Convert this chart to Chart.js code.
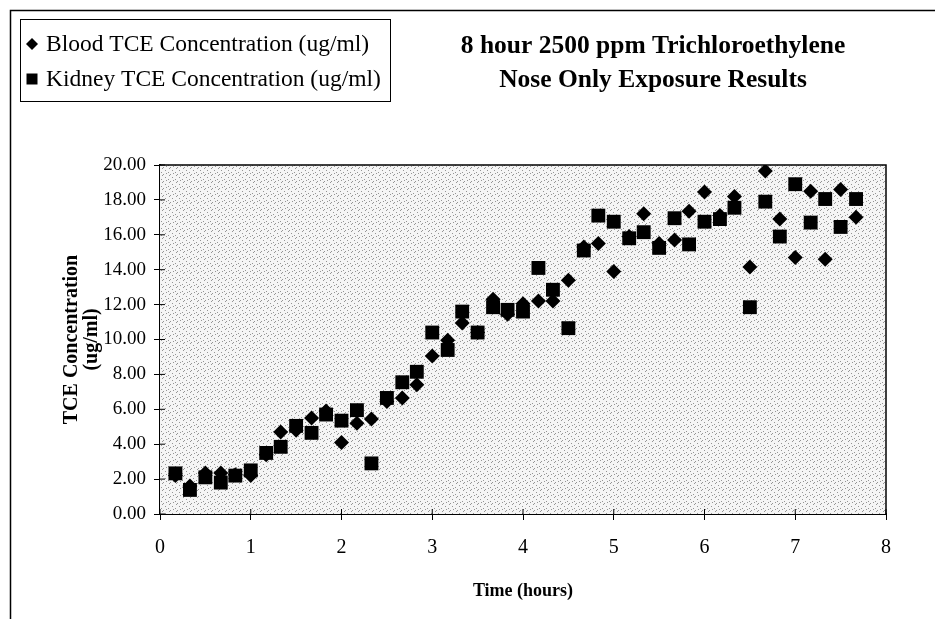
<!DOCTYPE html>
<html>
<head>
<meta charset="utf-8">
<script src="https://cdn.jsdelivr.net/npm/chart.js@4.4.1/dist/chart.umd.min.js"></script>
<style>
  html, body { margin: 0; padding: 0; background: #fff; }
  #wrap { width: 935px; height: 619px; position: relative; }
</style>
</head>
<body>
<div id="wrap"><canvas id="tceChart" width="935" height="619"></canvas></div>
<script>
// sampling times (hours)
const times = [0.17, 0.33, 0.5, 0.67, 0.83, 1.0, 1.17, 1.33, 1.5, 1.67, 1.83, 2.0, 2.17, 2.33, 2.5, 2.67,
    2.83, 3.0, 3.17, 3.33, 3.5, 3.67, 3.83, 4.0, 4.17, 4.33, 4.5, 4.67, 4.83, 5.0, 5.17, 5.33, 5.5, 5.67,
    5.83, 6.0, 6.17, 6.33, 6.5, 6.67, 6.83, 7.0, 7.17, 7.33, 7.5, 7.67];

const bloodTCE = [2.2, 1.6, 2.35, 2.35, 2.25, 2.2, 3.4, 4.7, 4.8, 5.5, 5.9, 4.1, 5.2, 5.45, 6.45, 6.65,
    7.4, 9.05, 9.95, 10.95, 10.4, 12.3, 11.45, 12.05, 12.2, 12.2, 13.4, 15.3, 15.5, 13.9, 15.9, 17.2, 15.5, 15.7,
    17.35, 18.45, 17.1, 18.2, 14.15, 19.65, 16.9, 14.7, 18.5, 14.6, 18.6, 17.0];

const kidneyTCE = [2.33, 1.38, 2.1, 1.8, 2.2, 2.5, 3.5, 3.85, 5.05, 4.65, 5.7, 5.35, 5.95, 2.9, 6.65, 7.55,
    8.15, 10.4, 9.4, 11.6, 10.4, 11.85, 11.7, 11.6, 14.1, 12.85, 10.65, 15.1, 17.1, 16.75, 15.8, 16.15, 15.25, 16.95,
    15.45, 16.75, 16.9, 17.55, 11.85, 17.9, 15.9, 18.9, 16.7, 18.05, 16.45, 18.05];

const seriesLabels = ['Blood TCE Concentration (ug/ml)', 'Kidney TCE Concentration (ug/ml)'];
const titleLines = ['8 hour 2500 ppm Trichloroethylene', 'Nose Only Exposure Results'];
const yTitle = ['TCE Concentration', '(ug/ml)'];
const xTitle = 'Time (hours)';

const SERIF = "'Liberation Serif', 'Times New Roman', serif";

// stippled grey fill for the plot area
function makeStipple(ctx) {
    const tile = document.createElement('canvas');
    tile.width = 7; tile.height = 7;
    const t = tile.getContext('2d');
    t.fillStyle = '#f5f5f5';
    t.fillRect(0, 0, 7, 7);
    t.fillStyle = '#959595';
    [[1, 0], [4, 2], [0, 4], [5, 5], [2, 6]].forEach(([x, y]) => t.fillRect(x, y, 1, 1));
    return ctx.createPattern(tile, 'repeat');
}

const decorPlugin = {
    id: 'decor',
    beforeDatasetsDraw(chart) {
        const { ctx, chartArea: a } = chart;
        ctx.save();
        ctx.fillStyle = makeStipple(ctx);
        ctx.fillRect(a.left, a.top, a.right - a.left, a.bottom - a.top);
        // top and right edges of the plot box
        ctx.strokeStyle = '#000';
        ctx.lineWidth = 1.5;
        ctx.beginPath();
        ctx.moveTo(a.left, a.top);
        ctx.lineTo(a.right, a.top);
        ctx.lineTo(a.right, a.bottom);
        ctx.stroke();
        // ticks crossing into the plot
        ctx.lineWidth = 1;
        const xs = chart.scales.x, ys = chart.scales.y;
        ctx.beginPath();
        ys.ticks.forEach(t => {
            const py = ys.getPixelForValue(t.value);
            ctx.moveTo(a.left, py);
            ctx.lineTo(a.left + 5, py);
        });
        xs.ticks.forEach(t => {
            const px = xs.getPixelForValue(t.value);
            ctx.moveTo(px, a.bottom);
            ctx.lineTo(px, a.bottom - 5);
        });
        ctx.stroke();
        ctx.restore();
    },
    afterDraw(chart) {
        const { ctx } = chart;
        ctx.save();
        // outer frame
        ctx.strokeStyle = '#000';
        ctx.lineWidth = 1.5;
        ctx.beginPath();
        ctx.moveTo(10.5, 619);
        ctx.lineTo(10.5, 10.5);
        ctx.lineTo(935, 10.5);
        ctx.stroke();
        // legend box
        ctx.lineWidth = 1;
        ctx.strokeRect(20.5, 19.5, 370, 82);
        ctx.fillStyle = '#000';
        ctx.font = '23.5px ' + SERIF;
        ctx.textBaseline = 'middle';
        ctx.textAlign = 'left';
        const rows = [44, 79];
        chart.data.datasets.forEach((ds, i) => {
            const cx = 32, cy = rows[i];
            ctx.beginPath();
            if (ds.pointStyle === 'rectRot') {
                ctx.moveTo(cx, cy - 6); ctx.lineTo(cx + 6, cy); ctx.lineTo(cx, cy + 6); ctx.lineTo(cx - 6, cy);
            } else {
                ctx.rect(cx - 5.5, cy - 5.5, 11, 11);
            }
            ctx.closePath();
            ctx.fill();
            ctx.fillText(ds.label, 46, cy + 1);
        });
        // title
        ctx.font = 'bold 25.5px ' + SERIF;
        ctx.textAlign = 'center';
        ctx.fillText(titleLines[0], 653, 46);
        ctx.fillText(titleLines[1], 653, 80);
        ctx.restore();
    }
};

new Chart(document.getElementById('tceChart').getContext('2d'), {
    type: 'scatter',
    data: {
        datasets: [{
            label: seriesLabels[0],
            data: times.map((t, i) => ({ x: t, y: bloodTCE[i] })),
            pointStyle: 'rectRot',
            pointRadius: 7.5,
            pointHoverRadius: 7.5,
            backgroundColor: '#000',
            borderColor: '#000',
            borderWidth: 0
        }, {
            label: seriesLabels[1],
            data: times.map((t, i) => ({ x: t, y: kidneyTCE[i] })),
            pointStyle: 'rect',
            pointRadius: 9.8,
            pointHoverRadius: 9.8,
            backgroundColor: '#000',
            borderColor: '#000',
            borderWidth: 0
        }]
    },
    options: {
        responsive: false,
        animation: false,
        layout: { padding: { left: 0, right: 49, top: 165, bottom: 0 } },
        plugins: {
            legend: { display: false },
            tooltip: { enabled: false }
        },
        scales: {
            x: {
                type: 'linear',
                min: 0,
                max: 8,
                afterFit: scale => { scale.height = 105; },
                border: { display: true, color: '#000', width: 2 },
                grid: { drawOnChartArea: false, drawTicks: true, tickLength: 6, color: '#000', lineWidth: 1 },
                ticks: { stepSize: 1, color: '#000', padding: 16, font: { family: SERIF, size: 20 } },
                title: {
                    display: true, text: xTitle, color: '#000',
                    font: { family: SERIF, size: 18, weight: 'bold' },
                    padding: { top: 0, bottom: 17 }
                }
            },
            y: {
                min: 0,
                max: 20,
                afterFit: scale => { scale.width = 160; },
                border: { display: true, color: '#000', width: 2 },
                grid: { drawOnChartArea: false, drawTicks: true, tickLength: 6, color: '#000', lineWidth: 1 },
                ticks: {
                    stepSize: 2, color: '#000', padding: 8,
                    font: { family: SERIF, size: 19 },
                    callback: v => v.toFixed(2)
                },
                title: {
                    display: true, text: yTitle, color: '#000',
                    font: { family: SERIF, size: 20, weight: 'bold', lineHeight: 1.0 },
                    padding: { top: 62, bottom: 0 }
                }
            }
        }
    },
    plugins: [decorPlugin]
});
</script>
</body>
</html>
